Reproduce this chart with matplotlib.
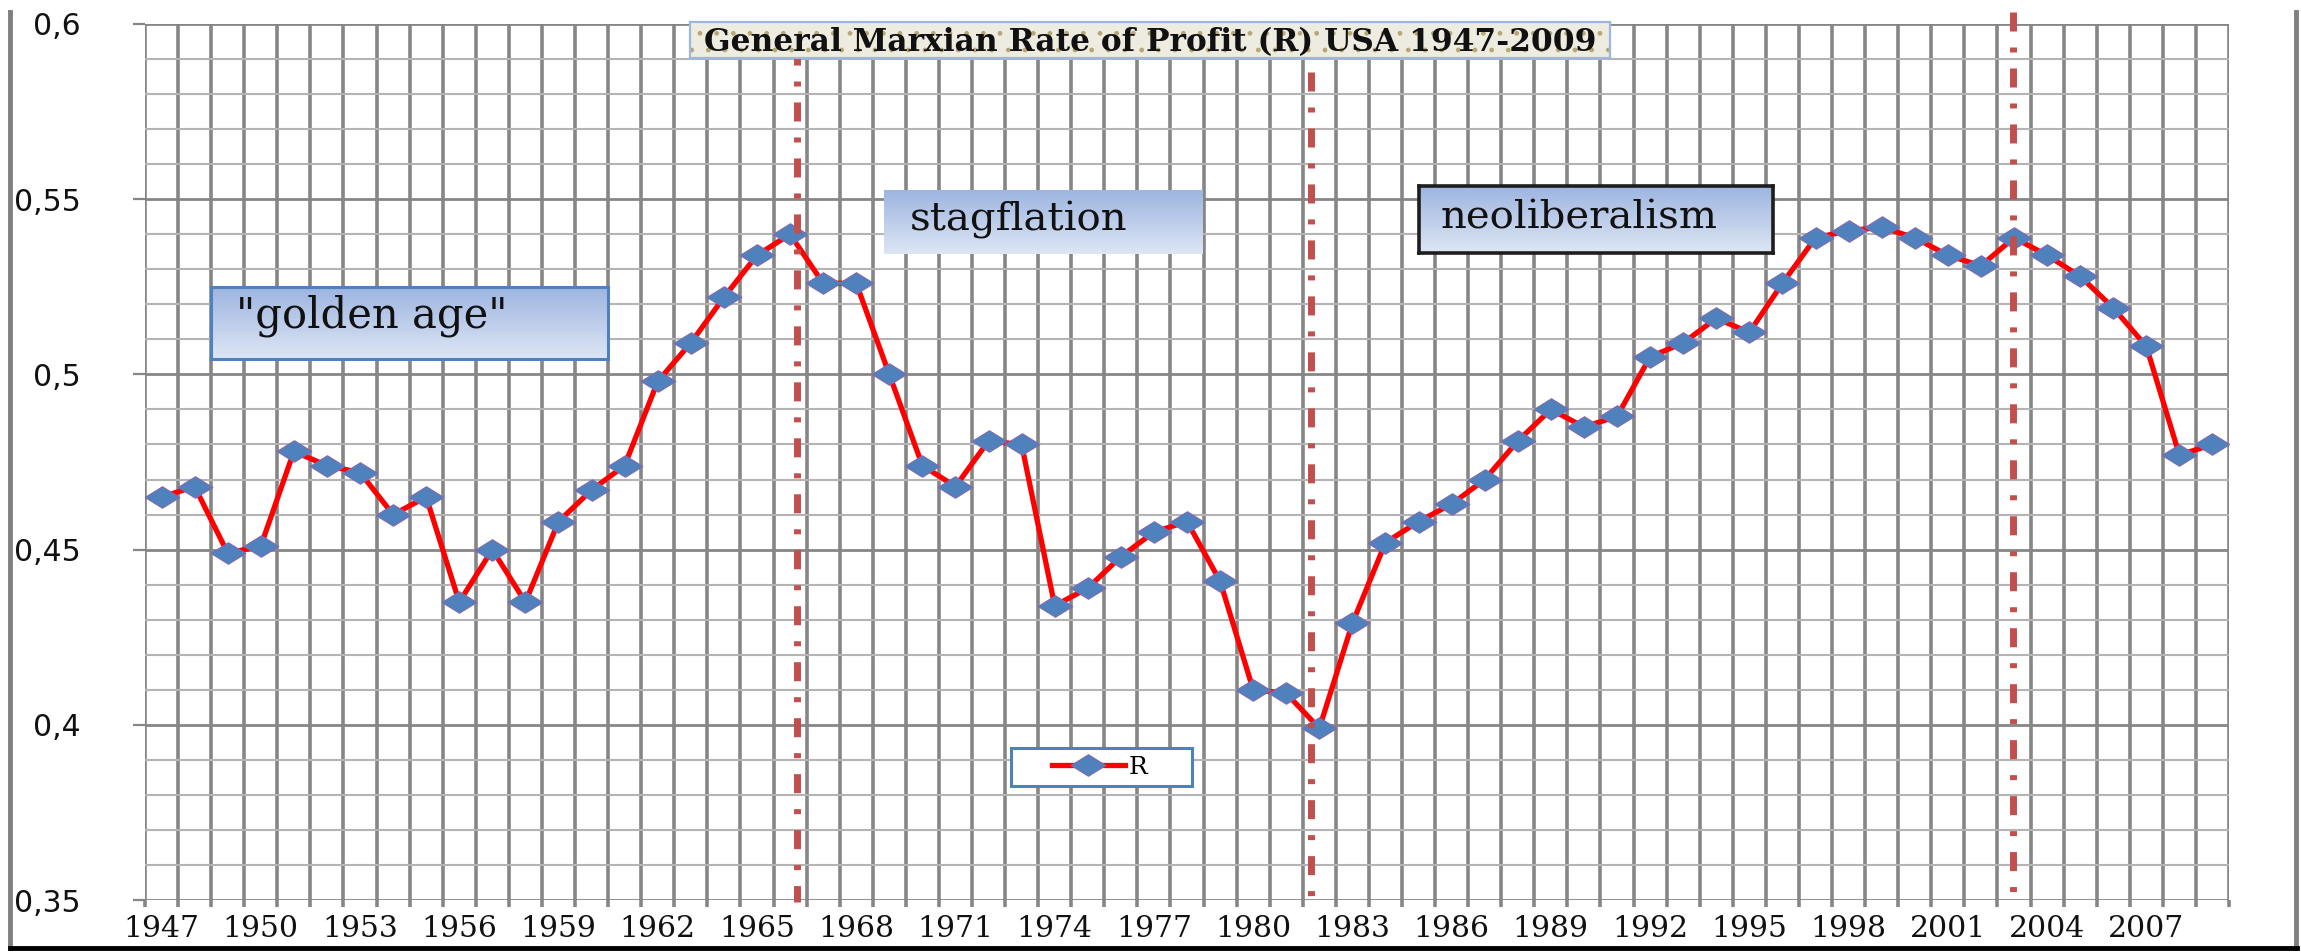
import numpy as np
import matplotlib
matplotlib.use('Agg')
import matplotlib.pyplot as plt
from matplotlib.path import Path
from matplotlib.lines import Line2D
from matplotlib.patches import Rectangle
from matplotlib.ticker import FixedLocator, MultipleLocator, NullFormatter
from matplotlib.colors import to_rgb

plt.rcParams['lines.scale_dashes'] = False
plt.rcParams['hatch.linewidth'] = 1.0

# ---------------- data ----------------
years = list(range(1947, 2010))
R = [0.465, 0.468, 0.449, 0.451, 0.478, 0.474, 0.472, 0.460, 0.465, 0.435,
     0.450, 0.435, 0.458, 0.467, 0.474, 0.498, 0.509, 0.522, 0.534, 0.540,
     0.526, 0.526, 0.500, 0.474, 0.468, 0.481, 0.480, 0.434, 0.439, 0.448,
     0.455, 0.458, 0.441, 0.410, 0.409, 0.399, 0.429, 0.452, 0.458, 0.463,
     0.470, 0.481, 0.490, 0.485, 0.488, 0.505, 0.509, 0.516, 0.512, 0.526,
     0.539, 0.541, 0.542, 0.539, 0.534, 0.531, 0.539, 0.534, 0.528, 0.519,
     0.508, 0.477, 0.480]
tick_years = list(range(1947, 2010, 3))
tick_labels = [str(y) for y in tick_years]
y_ticks = [0.35, 0.40, 0.45, 0.50, 0.55, 0.60]
y_tick_labels = ['0,35', '0,4', '0,45', '0,5', '0,55', '0,6']
period_breaks = [1966.2, 1981.75, 2002.96]
period_labels = ['"golden age"', 'stagflation', 'neoliberalism']
series_name = 'R'
title = 'General Marxian Rate of Profit (R) USA 1947-2009'

# ---------------- figure ----------------
W, H = 2301, 952
fig = plt.figure(figsize=(W / 100, H / 100), dpi=100)
fig.patch.set_facecolor('white')


def px(x0, y0, x1, y1):
    return [x0 / W, 1 - y1 / H, (x1 - x0) / W, (y1 - y0) / H]


AX_TOP, AX_BOT = 24, 900
ax = fig.add_axes(px(145, AX_TOP, 2229, AX_BOT))
ax.set_xlim(years[0] - 0.5, years[-1] + 0.5)
ax.set_ylim(y_ticks[0], y_ticks[-1])
for s in ax.spines.values():
    s.set_visible(False)
ax.set_axisbelow(True)

grid_dark = '#868686'
grid_light = '#B4B4B4'

# x: boundaries as major (grid + ticks), labels as minor
ax.xaxis.set_major_locator(FixedLocator(np.arange(years[0] - 0.5, years[-1] + 1.0, 1.0)))
ax.xaxis.set_major_formatter(NullFormatter())
ax.set_xticks(tick_years, minor=True)
ax.set_xticklabels(tick_labels, minor=True, fontsize=21.5, family='DejaVu Serif', color='#111111')
ax.tick_params(axis='x', which='major', length=5, width=2.6, color=grid_dark, direction='out')
ax.tick_params(axis='x', which='minor', length=0, pad=11)
ax.xaxis.grid(True, which='major', color=grid_dark, linewidth=2.6)

# y
ax.set_yticks(y_ticks)
ax.set_yticklabels(y_tick_labels, fontsize=21.5, family='DejaVu Sans', color='#111111')
ax.yaxis.set_minor_locator(MultipleLocator(0.01))
ax.tick_params(axis='y', which='major', length=9, width=1.6, color=grid_dark, direction='out', pad=37)
ax.tick_params(axis='y', which='minor', length=0)
ax.yaxis.grid(True, which='major', color=grid_dark, linewidth=2.0)
ax.yaxis.grid(True, which='minor', color=grid_light, linewidth=1.5)

# series
diamond = Path([(-1, 0), (0, 0.62), (1, 0), (0, -0.62), (-1, 0)],
               [Path.MOVETO, Path.LINETO, Path.LINETO, Path.LINETO, Path.CLOSEPOLY])
line, = ax.plot(years, R, color='#FF0000', lw=3.8, marker=diamond, ms=25,
                mfc='#4F81BD', mec='#7F6BB0', mew=0.8, label=series_name, zorder=3)

# period break lines (x in data, y in axes fraction)
break_tops_px = [46, 72, 12]
for xb, tp in zip(period_breaks, break_tops_px):
    ytop = (AX_BOT - tp) / (AX_BOT - AX_TOP)
    ybot = (AX_BOT - 902) / (AX_BOT - AX_TOP)
    ln, = ax.plot([xb, xb], [ytop, ybot], transform=ax.get_xaxis_transform(),
                  color='#C0504D', lw=5, clip_on=False, zorder=6,
                  solid_capstyle='butt', dash_capstyle='butt')
    ln.set_dashes((13.7, 11.5, 3.6, 11.5))

# legend box + legend
ax.add_patch(Rectangle((1011 / W, 1 - 786 / H), 181 / W, 38 / H, transform=fig.transFigure,
                       facecolor='white', edgecolor='#4F81BD', lw=2.2, zorder=4, clip_on=False))
ax.legend(handles=[line], loc='center left', bbox_to_anchor=(1052 / W, 1 - 767 / H),
          bbox_transform=fig.transFigure, frameon=False, borderpad=0, borderaxespad=0,
          handlelength=2.9, handletextpad=0.15,
          prop={'family': 'DejaVu Serif', 'size': 18})


# gradient text boxes
def grad_box(rect, text, tx, ty, edge=None, elw=0, top='#9DB5E0', bottom='#DDE6F4', size=24):
    bx = fig.add_axes(rect)
    c0, c1 = np.array(to_rgb(top)), np.array(to_rgb(bottom))
    t = np.linspace(0, 1, 64)[:, None, None]
    img = c0 * (1 - t) + c1 * t
    bx.imshow(img, aspect='auto', extent=[0, 1, 0, 1], interpolation='bilinear')
    bx.set_xlim(0, 1)
    bx.set_ylim(0, 1)
    bx.set_xticks([])
    bx.set_yticks([])
    for s in bx.spines.values():
        if edge is None:
            s.set_visible(False)
        else:
            s.set_color(edge)
            s.set_linewidth(elw)
    bx.text(tx, ty, text, transform=bx.transAxes, ha='left', va='baseline',
            fontsize=size, family='DejaVu Serif', color='#111111')
    return bx


grad_box(px(211, 287, 608, 359), period_labels[0], 0.062, 0.44, edge='#4F81BD', elw=2.2, size=30)
grad_box(px(884, 190, 1203, 254), period_labels[1], 0.08, 0.36, edge=None, size=29)
grad_box(px(1419, 186, 1773, 253), period_labels[2], 0.06, 0.37, edge='#1E1E1E', elw=2.6, size=29)

# title box
tb = fig.add_axes(px(690, 22, 1610, 58))
tb.set_xticks([])
tb.set_yticks([])
tb.set_xlim(0, 1)
tb.set_ylim(0, 1)
tb.add_patch(Rectangle((0, 0), 1, 1, transform=tb.transAxes, facecolor='#EEECE1',
                       edgecolor='#B5A878', hatch='.', lw=0))
for s in tb.spines.values():
    s.set_color('#9DB8E0')
    s.set_linewidth(1.6)
tb.text(0.5, 0.42, title, transform=tb.transAxes, ha='center', va='center',
        fontsize=22.5, family='DejaVu Serif', fontweight='bold', color='#111111')

# outer chart frame
fig.add_artist(Line2D([10 / W, 10 / W], [1 - 12 / H, 1 - 948 / H], color='#7F7F7F', lw=3.5))
fig.add_artist(Line2D([2296 / W, 2296 / W], [1 - 12 / H, 1 - 948 / H], color='#7F7F7F', lw=3.5))
fig.add_artist(Line2D([10 / W, 2297 / W], [1 - 948 / H, 1 - 948 / H], color='black', lw=3.5))

fig.savefig('out.png', dpi=100)
